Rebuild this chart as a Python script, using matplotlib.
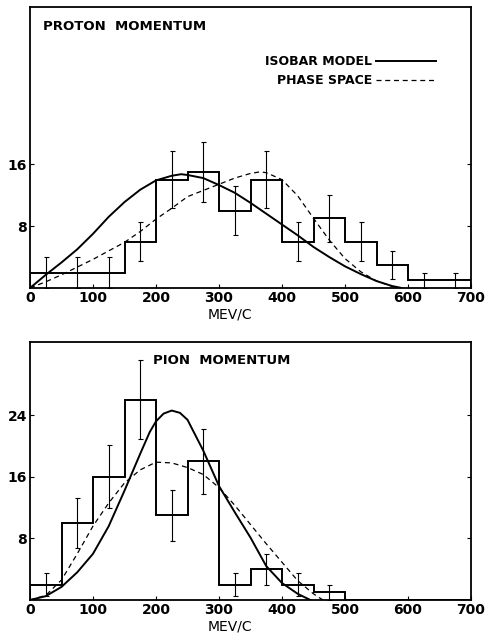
import matplotlib
matplotlib.use("Agg")
import matplotlib.pyplot as plt
import numpy as np

# bin edges (MeV/c)
edges = [0, 50, 100, 150, 200, 250, 300, 350, 400, 450, 500, 550, 600, 650, 700]

# proton momentum histogram
proton_counts = [2, 2, 2, 6, 14, 15, 10, 14, 6, 9, 6, 3, 1, 1]
proton_err = [2, 2, 2, 2.5, 3.7, 3.9, 3.2, 3.7, 2.5, 3.0, 2.5, 1.8, 1, 1]

# pion momentum histogram
pion_counts = [2, 10, 16, 26, 11, 18, 2, 4, 2, 1, 0, 0, 0, 0]
pion_err = [1.5, 3.2, 4.1, 5.1, 3.3, 4.2, 1.5, 2.0, 1.5, 1.0, 0, 0, 0, 0]

# theory curves
p_iso_x = [0, 25, 50, 75, 100, 125, 150, 175, 200, 225, 240, 250, 275, 300, 325,
           350, 375, 400, 425, 450, 475, 500, 525, 550, 575, 590]
p_iso_y = [0, 1.7, 3.3, 5.0, 7.0, 9.2, 11.1, 12.7, 13.9, 14.5, 14.7, 14.6, 14.2, 13.3,
           12.3, 11.0, 9.6, 8.2, 6.8, 5.3, 4.0, 2.8, 1.8, 0.9, 0.25, 0]
p_ps_x = [0, 25, 50, 75, 100, 125, 150, 175, 200, 225, 250, 275, 300, 325, 350,
          365, 375, 400, 425, 450, 475, 500, 525, 550, 575, 590]
p_ps_y = [0, 0.8, 1.7, 2.7, 3.7, 4.8, 5.9, 7.3, 8.9, 10.3, 11.8, 12.6, 13.4, 14.2,
          14.8, 15.0, 14.9, 14.0, 11.9, 9.0, 6.2, 3.8, 2.1, 0.9, 0.2, 0]

pi_iso_x = [0, 25, 50, 75, 100, 125, 150, 175, 190, 200, 212, 225, 238, 250, 275,
            300, 325, 350, 375, 400, 425, 445]
pi_iso_y = [0, 0.5, 1.7, 3.6, 6.0, 9.6, 14.2, 19.0, 21.8, 23.2, 24.2, 24.6, 24.3,
            23.4, 19.4, 14.8, 11.4, 8.1, 4.4, 2.2, 0.8, 0]
pi_ps_x = [0, 25, 50, 75, 100, 125, 150, 175, 200, 225, 250, 275, 300, 325, 350,
           375, 400, 425, 450, 465]
pi_ps_y = [0, 0.6, 2.6, 6.0, 9.6, 12.6, 15.2, 16.9, 17.9, 17.8, 17.2, 16.3, 14.6,
           12.3, 9.8, 7.3, 4.9, 2.5, 0.8, 0]

xticks = [0, 100, 200, 300, 400, 500, 600, 700]

plt.rcParams['font.family'] = ['DejaVu Sans']
plt.rcParams['font.weight'] = 'bold'

fig = plt.figure(figsize=(4.87, 6.37), dpi=100)
ax1 = fig.add_axes([30 / 487, 1 - 288 / 637, 441 / 487, 281 / 637])
ax2 = fig.add_axes([30 / 487, 1 - 600 / 637, 441 / 487, 258 / 637])

centers = [(edges[i] + edges[i + 1]) / 2 for i in range(len(edges) - 1)]


def panel(ax, counts, err, iso_x, iso_y, ps_x, ps_y, yticks, ytop, title, title_x):
    ax.stairs(counts, edges, color='black', lw=1.4, baseline=0)
    c = [centers[i] for i in range(len(counts)) if err[i] > 0]
    v = [counts[i] for i in range(len(counts)) if err[i] > 0]
    e = [err[i] for i in range(len(counts)) if err[i] > 0]
    ax.errorbar(c, v, yerr=e, fmt='none', ecolor='black', elinewidth=0.8,
                capsize=1.8, capthick=0.8)
    ax.plot(iso_x, iso_y, color='black', lw=1.4, solid_joinstyle='round',
            label='ISOBAR MODEL')
    ax.plot(ps_x, ps_y, color='black', lw=0.9, ls=(0, (4, 3)), label='PHASE SPACE')
    ax.set_xlim(0, 700)
    ax.set_ylim(0, ytop)
    ax.set_xticks(xticks)
    ax.set_yticks(yticks)
    ax.tick_params(direction='in', length=3, width=0.8, labelsize=10, pad=2,
                   right=True)
    for s in ax.spines.values():
        s.set_linewidth(1.3)
    ax.set_xlabel('MEV/C', fontsize=10, x=0.454, labelpad=2)
    ax.text(title_x, 0.93, title, transform=ax.transAxes, fontsize=9.5,
            fontweight='bold', va='center', ha='left')


panel(ax1, proton_counts, proton_err, p_iso_x, p_iso_y, p_ps_x, p_ps_y,
      [8, 16], 36.3, 'PROTON  MOMENTUM', 0.03)
panel(ax2, pion_counts, pion_err, pi_iso_x, pi_iso_y, pi_ps_x, pi_ps_y,
      [8, 16, 24], 33.5, 'PION  MOMENTUM', 0.279)

leg = ax1.legend(loc='upper right', bbox_to_anchor=(0.935, 0.85), frameon=False,
                 markerfirst=False, fontsize=9, handlelength=4.8,
                 handletextpad=0.3, labelspacing=0.45, borderpad=0)

fig.savefig('out.png', dpi=100)
